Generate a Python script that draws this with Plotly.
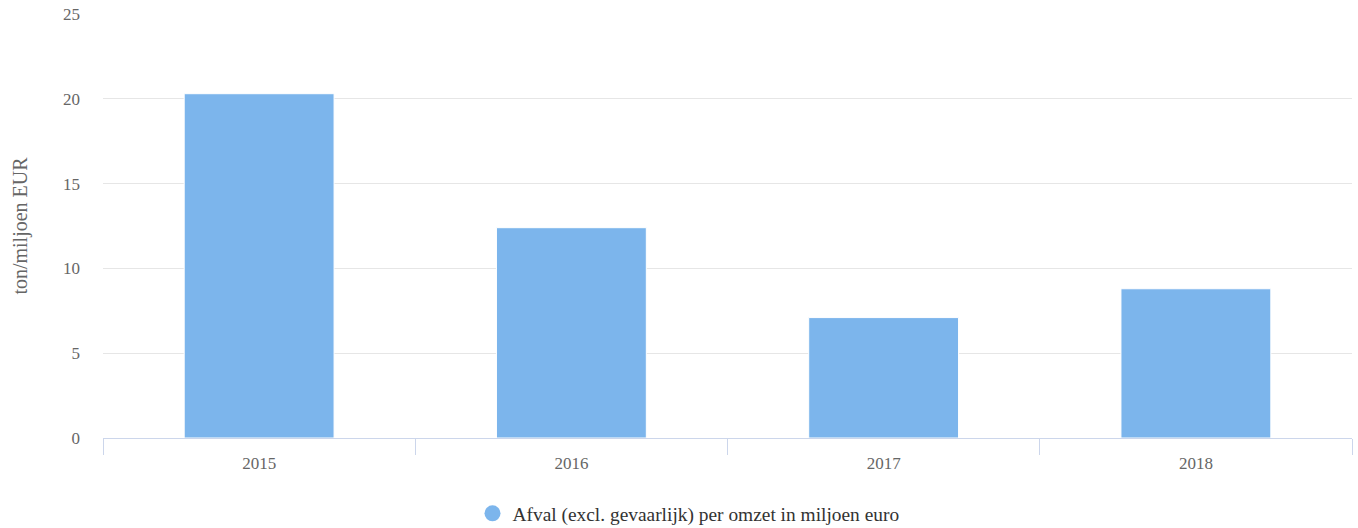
import plotly.graph_objects as go

# Waste (excluding hazardous) per revenue, tonnes per million EUR
years = ["2015", "2016", "2017", "2018"]
values = [20.3, 12.4, 7.1, 8.8]
y_ticks = [0, 5, 10, 15, 20, 25]
series_name = "Afval (excl. gevaarlijk) per omzet in miljoen euro"
y_title = "ton/miljoen EUR"

BAR_COLOR = "#7cb5ec"
FONT = "Liberation Serif"
TEXT_COLOR = "#666666"

fig = go.Figure()

fig.add_trace(go.Bar(
    x=years,
    y=values,
    marker=dict(color=BAR_COLOR, line=dict(color="#ffffff", width=1)),
    showlegend=False,
    hoverinfo="x+y",
))

# Legend entry with a round symbol
fig.add_trace(go.Scatter(
    x=[None], y=[None],
    mode="markers",
    marker=dict(symbol="circle", size=18, color=BAR_COLOR),
    name=series_name,
    showlegend=True,
))

fig.update_layout(
    width=1358,
    height=528,
    margin=dict(l=103, r=6, t=14, b=90, autoexpand=False),
    paper_bgcolor="#ffffff",
    plot_bgcolor="#ffffff",
    font=dict(family=FONT, color=TEXT_COLOR, size=17),
    bargap=0.52,
    showlegend=True,
    legend=dict(
        orientation="h",
        x=0.507, xanchor="center",
        xref="container",
        y=0.027, yanchor="middle",
        yref="container",
        font=dict(family=FONT, size=19.4, color="#333333"),
        itemsizing="trace",
    ),
    xaxis=dict(
        type="category",
        range=[-0.5, 3.5],
        showline=True,
        linecolor="#ccd6eb",
        linewidth=1,
        ticks="outside",
        tickson="boundaries",
        ticklen=16,
        tickcolor="#ccd6eb",
        ticklabelstandoff=10,
        showgrid=False,
        tickfont=dict(family=FONT, size=17, color=TEXT_COLOR),
        fixedrange=True,
    ),
    yaxis=dict(
        range=[0, 25],
        tickvals=y_ticks,
        showgrid=True,
        gridcolor="#e6e6e6",
        gridwidth=1,
        zeroline=False,
        showline=False,
        ticks="",
        ticklabelstandoff=22,
        tickfont=dict(family=FONT, size=17, color=TEXT_COLOR),
        title=dict(text=y_title, font=dict(family=FONT, size=20, color=TEXT_COLOR), standoff=30),
        fixedrange=True,
    ),
)

fig.write_html("out.html")
